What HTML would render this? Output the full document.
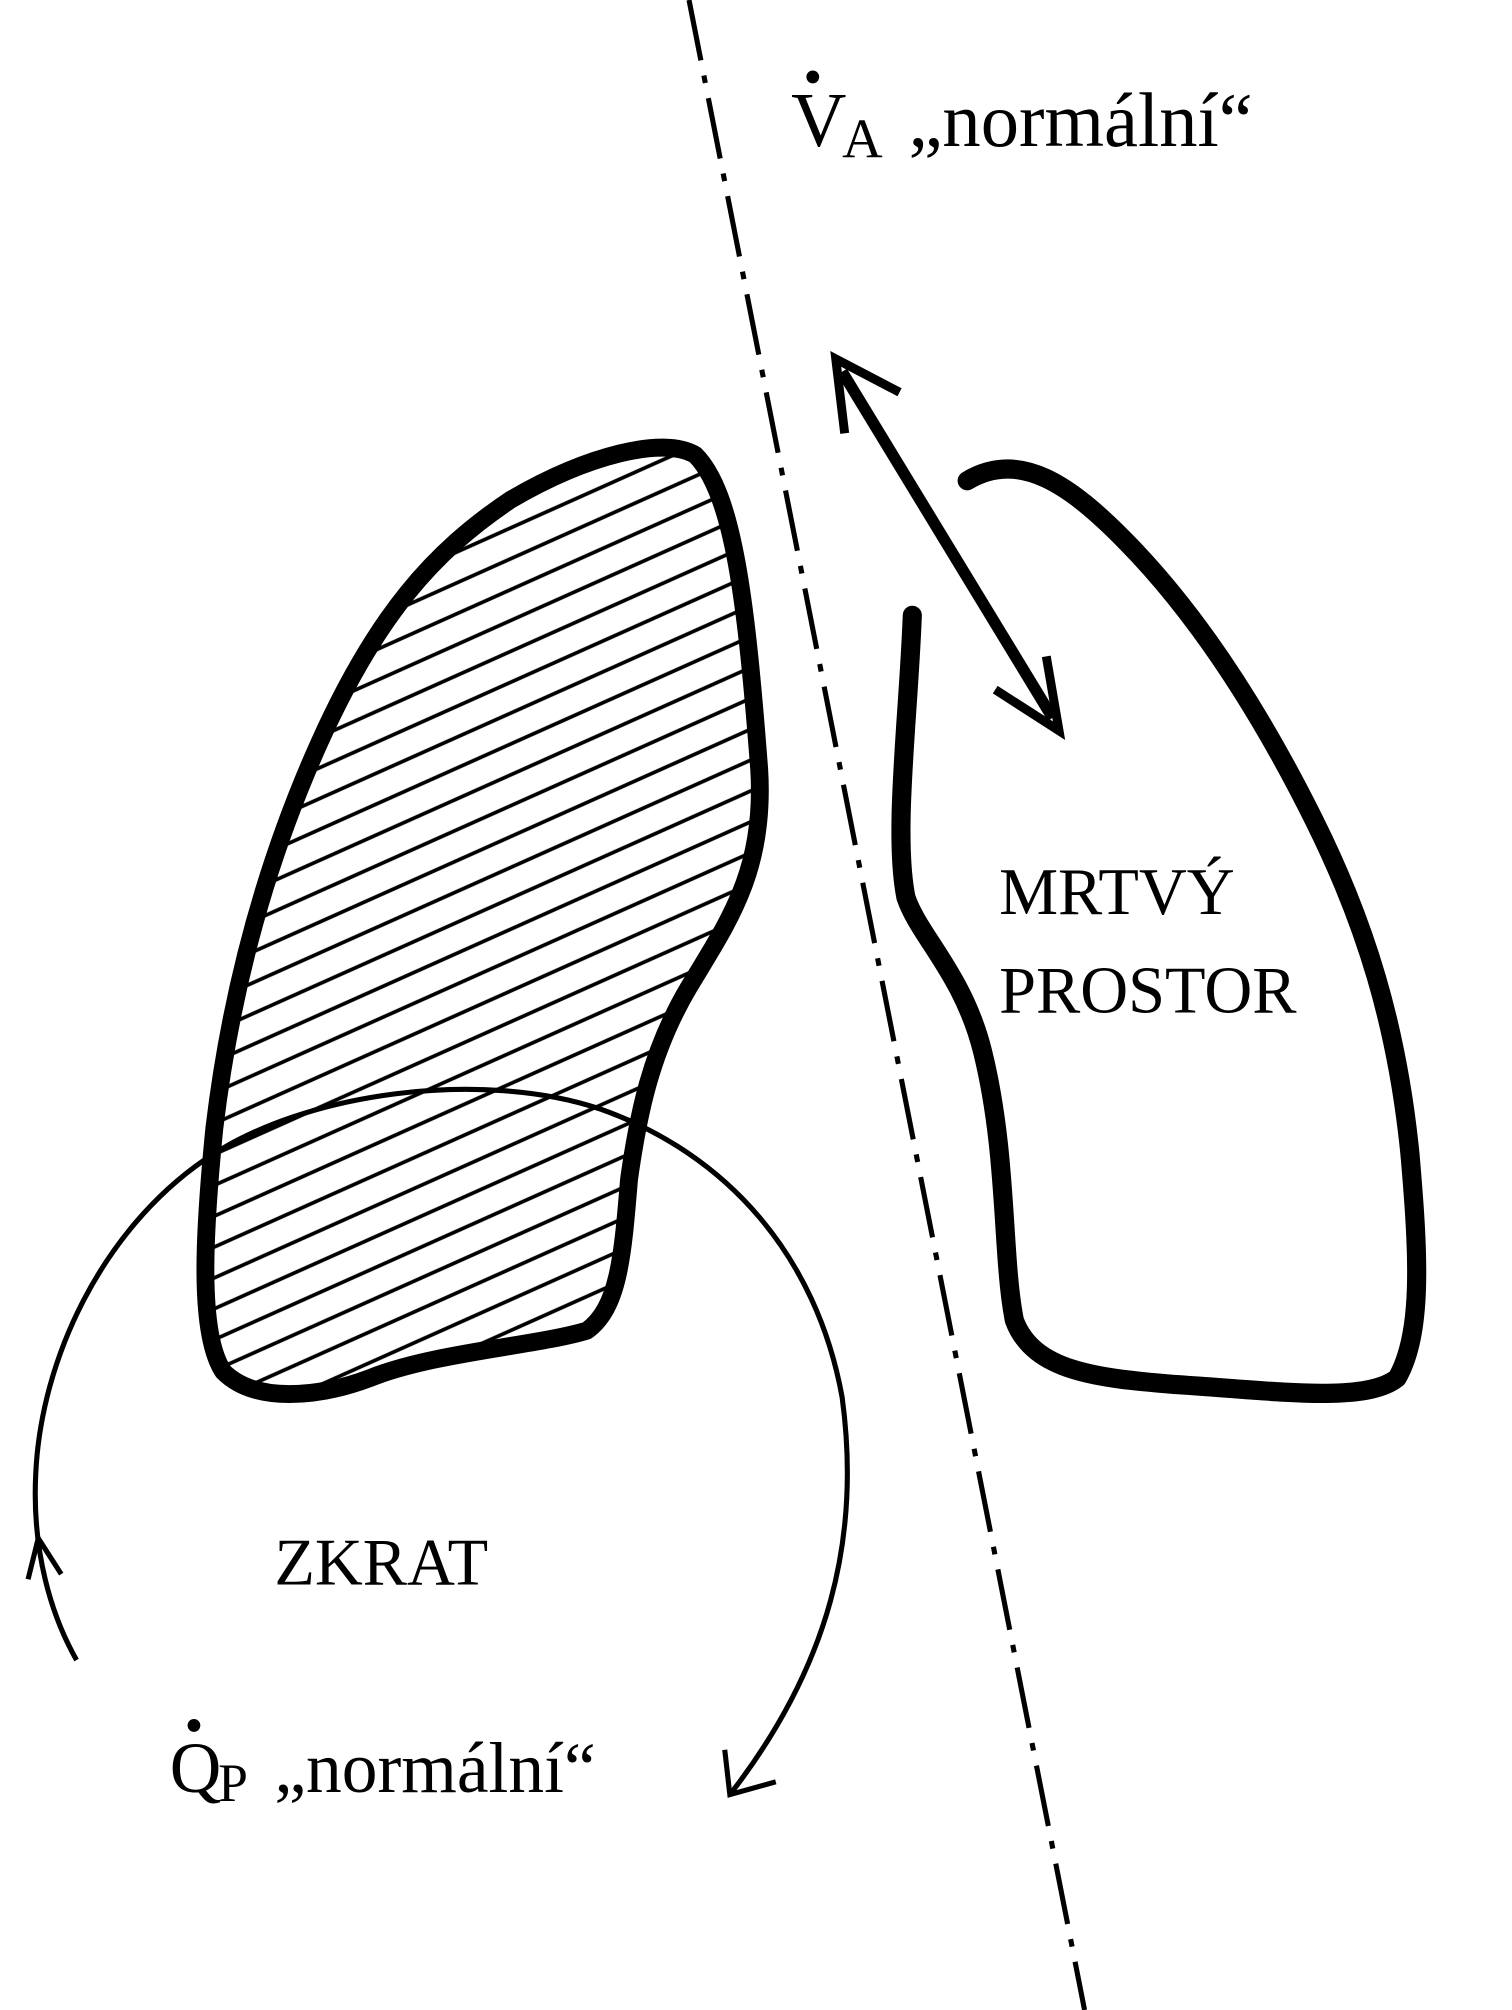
<!DOCTYPE html>
<html><head><meta charset="utf-8"><style>
html,body{margin:0;padding:0;background:#fff;}
svg{display:block;}
text{font-family:"Liberation Serif",serif;fill:#000;}
</style></head><body>
<svg width="1512" height="2010" viewBox="0 0 1185 1568" preserveAspectRatio="none" xmlns="http://www.w3.org/2000/svg">
<defs>
<pattern id="h" patternUnits="userSpaceOnUse" width="40" height="22" patternTransform="rotate(-24)">
<line x1="0" y1="11" x2="40" y2="11" stroke="#000" stroke-width="2.8"/>
</pattern>
<clipPath id="lc"><path d="M545,355 C575,385 585,470 595,600 C600,680 570,720 540,770 C510,820 500,870 493,920 C488,980 485,1020 460,1038 C420,1050 340,1055 290,1075 C250,1090 200,1095 175,1070 C155,1040 160,960 168,880 C180,780 205,680 250,580 C295,480 340,430 400,390 C460,355 520,340 545,355 Z"/></clipPath>
</defs>
<line x1="540" y1="0" x2="850" y2="1568" stroke="#000" stroke-width="4" stroke-dasharray="48,12,6,12"/>
<rect x="150" y="330" width="460" height="780" fill="url(#h)" clip-path="url(#lc)"/>
<path d="M545,355 C575,385 585,470 595,600 C600,680 570,720 540,770 C510,820 500,870 493,920 C488,980 485,1020 460,1038 C420,1050 340,1055 290,1075 C250,1090 200,1095 175,1070 C155,1040 160,960 168,880 C180,780 205,680 250,580 C295,480 340,430 400,390 C460,355 520,340 545,355 Z" fill="none" stroke="#000" stroke-width="14" stroke-linejoin="round"/>
<path d="M60,1295 C40,1260 25,1210 28,1150 C32,1060 80,960 160,905 C240,850 380,835 470,865 C570,900 640,980 660,1090 C675,1200 650,1300 572,1400" fill="none" stroke="#000" stroke-width="4"/>
<path d="M22,1232 L30,1200 L48,1228" fill="none" stroke="#000" stroke-width="4"/>
<path d="M568,1365 L572,1400 L608,1390" fill="none" stroke="#000" stroke-width="4"/>
<path d="M758,375 C800,350 840,380 880,420 C940,480 990,560 1030,640 C1070,720 1095,800 1105,900 C1112,980 1115,1040 1095,1075 C1070,1095 1000,1085 920,1080 C860,1075 810,1070 795,1030 C785,980 790,900 770,820 C755,760 720,730 710,700 C700,650 712,560 715,480" fill="none" stroke="#000" stroke-width="15" stroke-linecap="round" stroke-linejoin="round"/>
<line x1="660" y1="290" x2="825" y2="560" stroke="#000" stroke-width="9"/>
<path d="M662,338 L655,280 L705,306" fill="none" stroke="#000" stroke-width="7"/>
<path d="M780,538 L830,570 L820,512" fill="none" stroke="#000" stroke-width="7"/>
<text x="620" y="114" font-size="60">V</text>
<circle cx="637" cy="60" r="5" fill="#000"/>
<text x="660" y="123" font-size="44">A</text>
<text x="712" y="114" font-size="60">„normální“</text>
<text x="783" y="713" font-size="52">MRTVÝ</text>
<text x="783" y="790" font-size="52">PROSTOR</text>
<text x="215" y="1236" font-size="52">ZKRAT</text>
<text x="133" y="1398" font-size="56">Q</text>
<circle cx="152" cy="1346" r="5" fill="#000"/>
<text x="171" y="1405" font-size="42">P</text>
<text x="215" y="1398" font-size="56">„normální“</text>
</svg>
</body></html>
